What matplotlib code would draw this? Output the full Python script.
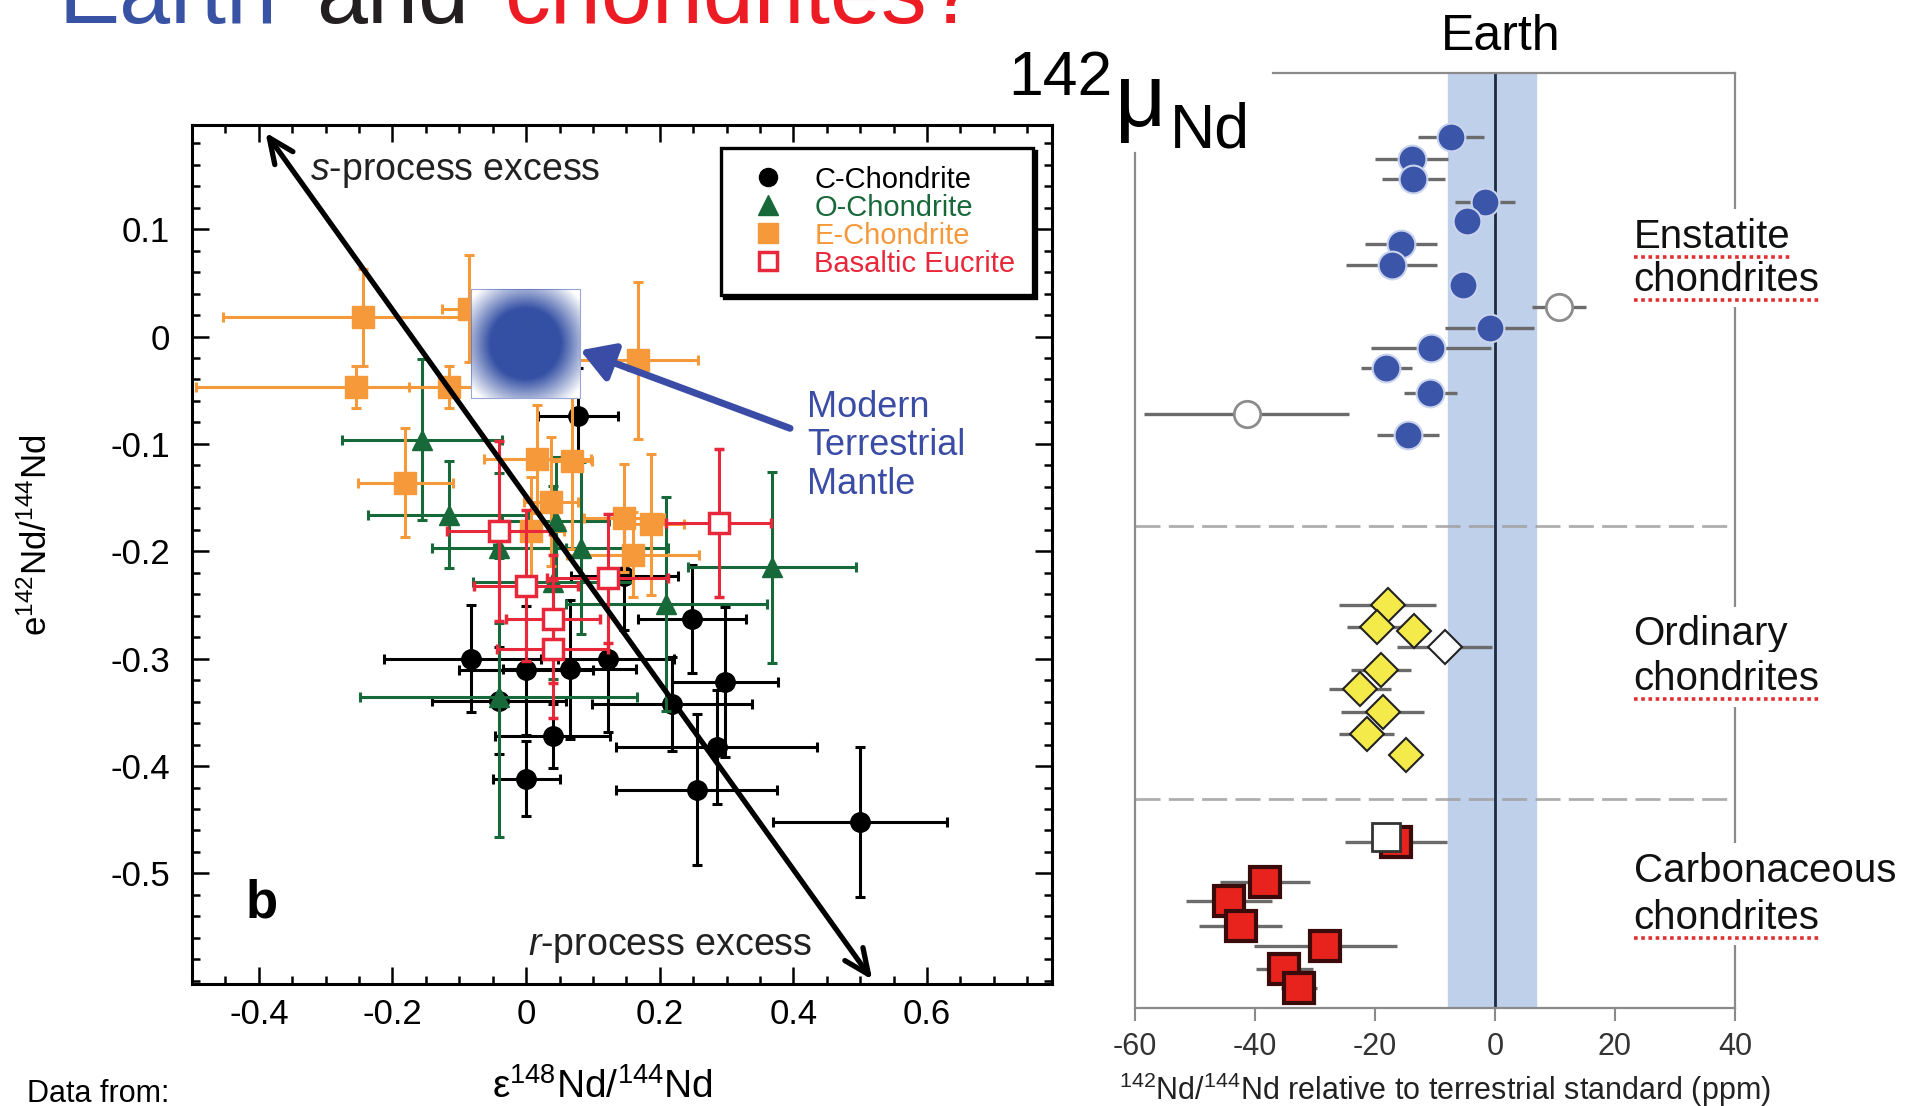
import numpy as np
import matplotlib.pyplot as plt
import matplotlib.colors as mcolors
from matplotlib.lines import Line2D
from matplotlib.patches import Rectangle
from matplotlib.ticker import MultipleLocator, FuncFormatter
from matplotlib.transforms import IdentityTransform

plt.rcParams['font.family'] = ['Liberation Sans', 'DejaVu Sans']
plt.rcParams['mathtext.fontset'] = 'custom'
plt.rcParams['mathtext.rm'] = 'Liberation Sans'
plt.rcParams['mathtext.it'] = 'Liberation Sans:italic'
plt.rcParams['mathtext.bf'] = 'Liberation Sans:bold'
plt.rcParams['axes.unicode_minus'] = False

W, H = 1914, 1106

# ---- left panel: e142Nd vs e148Nd ----
c_x = [0.078, 0.248, -0.083, 0.0, 0.065, 0.122, 0.298, -0.041, 0.218, 0.040, 0.285, 0.0, 0.255, 0.50, 0.147]
c_y = [-0.074, -0.263, -0.300, -0.311, -0.310, -0.300, -0.322, -0.339, -0.342, -0.372, -0.382, -0.412, -0.422, -0.452, -0.223]
c_xerr = [0.06, 0.081, 0.13, 0.10, 0.10, 0.10, 0.079, 0.10, 0.12, 0.086, 0.15, 0.05, 0.12, 0.13, 0.08]
c_yerr = [0.045, 0.05, 0.05, 0.06, 0.065, 0.068, 0.07, 0.05, 0.044, 0.03, 0.053, 0.035, 0.07, 0.07, 0.05]

o_x = [-0.156, -0.116, -0.041, 0.044, 0.082, 0.040, 0.368, 0.21, -0.041]
o_y = [-0.096, -0.166, -0.197, -0.172, -0.197, -0.229, -0.215, -0.249, -0.336]
o_xerr = [0.12, 0.12, 0.10, 0.08, 0.13, 0.12, 0.126, 0.15, 0.207]
o_yerr = [0.075, 0.05, 0.07, 0.06, 0.08, 0.09, 0.089, 0.10, 0.13]

e_x = [-0.244, -0.254, -0.116, -0.086, -0.181, 0.017, 0.068, 0.037, 0.007, 0.167, 0.147, 0.187, 0.160]
e_y = [0.018, -0.047, -0.047, 0.026, -0.136, -0.114, -0.116, -0.154, -0.181, -0.022, -0.169, -0.175, -0.203]
e_xerr = [0.21, 0.24, 0.06, 0.04, 0.071, 0.08, 0.031, 0.04, 0.05, 0.09, 0.06, 0.05, 0.099]
e_yerr = [0.045, 0.02, 0.02, 0.05, 0.051, 0.05, 0.082, 0.06, 0.05, 0.073, 0.05, 0.066, 0.04]

b_x = [-0.041, 0.0, 0.040, 0.040, 0.122, 0.288]
b_y = [-0.181, -0.232, -0.263, -0.291, -0.225, -0.174]
b_xerr = [0.077, 0.078, 0.07, 0.083, 0.09, 0.079]
b_yerr = [0.084, 0.07, 0.06, 0.064, 0.06, 0.069]

legend_labels = ['C-Chondrite', 'O-Chondrite', 'E-Chondrite', 'Basaltic Eucrite']
mantle_box = [-0.083, 0.080, -0.057, 0.044]
mix_start, mix_end = (-0.39, 0.19), (0.518, -0.599)

# ---- right panel: mu142Nd (ppm), rows from top (0) to bottom (100) ----
en_x = [-7.3, -13.9, -13.6, -1.6, -4.7, -15.7, -17.2, -5.4, -0.9, -10.6, -18.1, -10.8, -14.5]
en_err = [5.5, 6.1, 5.3, 5.0, 1.5, 6.0, 7.6, 1.5, 7.4, 10.0, 4.2, 4.4, 5.2]
en_row = [6.8, 9.2, 11.3, 13.8, 15.8, 18.3, 20.5, 22.7, 27.3, 29.4, 31.5, 34.2, 38.7]
en_open_x = [10.6, -41.4]
en_open_err = [4.5, 17.1]
en_open_row = [25.0, 36.5]

oc_x = [-17.9, -19.6, -13.5, -19.0, -22.5, -18.7, -21.4, -14.8]
oc_err = [8.1, 5.0, 2.0, 5.0, 5.1, 6.9, 4.6, 2.0]
oc_row = [56.9, 59.3, 59.7, 63.9, 65.9, 68.3, 70.7, 72.9]
oc_open_x = [-8.4]
oc_open_err = [7.9]
oc_open_row = [61.4]

cc_x = [-16.5, -38.3, -44.3, -42.4, -28.3, -35.1, -32.6]
cc_err = [8.5, 7.5, 7.2, 6.9, 11.9, 4.8, 3.0]
cc_row = [82.2, 86.5, 88.6, 91.2, 93.4, 95.8, 97.9]
cc_open_x = [-18.1]
cc_open_row = [81.7]

earth_band = (-7.8, 6.9)
group_breaks = [48.5, 77.7]
group_labels = [('Enstatite', 18.7, True), ('chondrites', 23.3, True),
                ('Ordinary', 61.2, False), ('chondrites', 66.0, True),
                ('Carbonaceous', 86.5, False), ('chondrites', 91.5, True)]
xticks_r = [-60, -40, -20, 0, 20, 40]


def fx(px):
    return px / W


def fy(py):
    return 1 - py / H


fig = plt.figure(figsize=(W / 100, H / 100), dpi=100)

# title (cut off at top, as on the slide)
fig.text(fx(59), fy(23), 'Earth', color='#3953a4', fontsize=66, va='baseline')
fig.text(fx(316), fy(23), 'and', color='#231f20', fontsize=66, va='baseline')
fig.text(fx(504), fy(23), 'chondrites?', color='#ed1c24', fontsize=66, va='baseline')

# ================= left panel =================
axl = fig.add_axes([fx(192), fy(984), 860 / W, 859 / H])

blk, grn, org, red = '#000000', '#18693a', '#f5993a', '#e8283a'
kw = dict(elinewidth=2.2, capsize=3.5, capthick=2.2)
axl.errorbar(c_x, c_y, xerr=c_xerr, yerr=c_yerr, fmt='o', ms=14, color=blk, zorder=2.1, **kw)
axl.errorbar(o_x, o_y, xerr=o_xerr, yerr=o_yerr, fmt='^', ms=15, color=grn, zorder=2.2, **kw)
axl.errorbar(e_x, e_y, xerr=e_xerr, yerr=e_yerr, fmt='s', ms=16, color=org, zorder=2.3, **kw)
axl.errorbar(b_x, b_y, xerr=b_xerr, yerr=b_yerr, fmt='s', ms=15, mfc='white', mec=red,
             mew=2.5, ecolor=red, zorder=2.4, **kw)

# modern terrestrial mantle: blurred blue square
u = np.linspace(-1, 1, 200)
U, V = np.meshgrid(u, u)
R = np.hypot(U, V)
img = np.zeros((200, 200, 4))
img[..., :3] = mcolors.to_rgb('#3450a4')
img[..., 3] = np.clip((1.3 - R) / 0.65, 0, 1)
x0, x1, y0, y1 = mantle_box
axl.add_patch(Rectangle((x0, y0), x1 - x0, y1 - y0, facecolor='white',
                        edgecolor='#9aa6d8', lw=0.8, zorder=5.9))
axl.imshow(img, extent=mantle_box, aspect='auto', zorder=6, interpolation='bilinear')

axl.annotate('', xy=mix_end, xytext=mix_start, annotation_clip=False,
             arrowprops=dict(arrowstyle='<->,head_length=0.45,head_width=0.2', lw=3.8,
                             color='k', mutation_scale=40, shrinkA=0, shrinkB=0), zorder=8)
axl.annotate('', xy=(0.081, -0.0128), xytext=(0.395, -0.0855),
             arrowprops=dict(arrowstyle='-|>,head_length=0.5,head_width=0.3', lw=5,
                             color='#3a4ca6', mutation_scale=40, shrinkA=0, shrinkB=0), zorder=8)

blue_txt = '#3a4ca6'
for line, yb in zip(['Modern', 'Terrestrial', 'Mantle'], [-0.0747, -0.1104, -0.1463]):
    axl.text(0.42, yb, line, color=blue_txt, fontsize=26, va='baseline')

axl.text(-0.323, 0.146, r'$\mathit{s}$-process excess', fontsize=27, va='baseline', color='#222')
axl.text(0.003, -0.576, r'$\mathit{r}$-process excess', fontsize=27, va='baseline', color='#222')
axl.text(-0.42, -0.541, 'b', fontsize=38, fontweight='bold', va='baseline')

axl.set_xlim(-0.5, 0.787)
axl.set_ylim(-0.603, 0.197)
axl.xaxis.set_major_locator(MultipleLocator(0.2))
axl.xaxis.set_minor_locator(MultipleLocator(0.05))
axl.set_yticks([-0.5, -0.4, -0.3, -0.2, -0.1, 0.0, 0.1])
axl.yaxis.set_minor_locator(MultipleLocator(0.02))
fmt = FuncFormatter(lambda v, p: '0' if abs(v) < 1e-9 else f'{v:.1f}')
axl.xaxis.set_major_formatter(fmt)
axl.yaxis.set_major_formatter(fmt)
axl.tick_params(which='both', direction='in', top=True, right=True, width=1.8, labelsize=25)
axl.tick_params(which='major', length=12)
axl.tick_params(which='minor', length=6)
axl.tick_params(axis='x', pad=10)
axl.tick_params(axis='y', pad=16)
for s in axl.spines.values():
    s.set_linewidth(2.2)

handles = [Line2D([], [], ls='none', marker='o', ms=13, color=blk),
           Line2D([], [], ls='none', marker='^', ms=15, color=grn),
           Line2D([], [], ls='none', marker='s', ms=15, color=org),
           Line2D([], [], ls='none', marker='s', ms=13, mfc='white', mec=red, mew=2.5)]
leg = axl.legend(handles, legend_labels, loc='upper right',
                 bbox_to_anchor=(1 - 19 / 860, 1 - 23 / 859), borderaxespad=0,
                 fontsize=21, frameon=True, fancybox=False,
                 shadow={'color': 'black', 'alpha': 1}, edgecolor='black', framealpha=1,
                 borderpad=0.6, labelspacing=0.0, handlelength=2, handletextpad=0.6)
leg.get_frame().set_linewidth(2.4)
for t, c in zip(leg.get_texts(), [blk, grn, org, red]):
    t.set_color(c)

fig.text(fx(37), fy(535), r'e$^{142}$Nd/$^{144}$Nd', rotation=90, fontsize=25,
         ha='center', va='center')
fig.text(fx(602), fy(1098), r'ε$^{148}$Nd/$^{144}$Nd', fontsize=28, ha='center', va='baseline')
fig.text(fx(27), fy(1102), 'Data from:', fontsize=22, va='baseline')

# ================= right panel =================
axr = fig.add_axes([fx(1135), fy(1008), 600 / W, 935 / H])
axr.axvspan(*earth_band, color='#bed0ea', zorder=0)
for r in group_breaks:
    axr.axhline(r, color='#a0a0a0', lw=2, dashes=(9, 3), alpha=0.85, zorder=0.5)
axr.axvline(0, color='#1d2a40', lw=2, zorder=1)

ekw = dict(fmt='none', ecolor='#6b6b6b', elinewidth=2.4, capsize=0, zorder=2)
axr.errorbar(en_x, en_row, xerr=en_err, **ekw)
axr.errorbar(en_open_x, en_open_row, xerr=en_open_err, **ekw)
axr.errorbar(oc_x, oc_row, xerr=oc_err, **ekw)
axr.errorbar(oc_open_x, oc_open_row, xerr=oc_open_err, **ekw)
axr.errorbar(cc_x, cc_row, xerr=cc_err, **ekw)

axr.plot(en_x, en_row, 'o', ms=20, mfc='#3b55a8', mec='#c9d3ee', mew=1.5, zorder=3)
axr.plot(en_open_x, en_open_row, 'o', ms=19, mfc='white', mec='#8c8c8c', mew=2, zorder=3)
axr.plot(oc_x, oc_row, 'D', ms=17, mfc='#f4ea4a', mec='#222', mew=1.5, zorder=3)
axr.plot(oc_open_x, oc_open_row, 'D', ms=17, mfc='white', mec='#222', mew=1.5, zorder=3)
axr.plot(cc_x, cc_row, 's', ms=21, mfc='#e8231e', mec='#3b0b0b', mew=3, zorder=3)
axr.plot(cc_open_x, cc_open_row, 's', ms=20, mfc='white', mec='#333', mew=2, zorder=3.1)

axr.set_xlim(-60, 40)
axr.set_ylim(100, 0)
axr.set_yticks([])
axr.set_xticks(xticks_r)
axr.tick_params(axis='x', direction='out', length=9, width=1.5, color='#8a8a8a',
                labelsize=22, labelcolor='#333', pad=8)
for s in axr.spines.values():
    s.set_color('#8a8a8a')
    s.set_linewidth(1.6)
axr.spines['top'].set_bounds(-37, 40)
axr.spines['left'].set_bounds(8.6, 100)

lbl_texts = []
for txt, row, ul in group_labels:
    t = axr.text(23.1, row, txt, fontsize=29, va='baseline', color='#111',
                 bbox=dict(facecolor='white', edgecolor='none', pad=6))
    lbl_texts.append((t, ul))

fig.text(fx(1008), fy(95), '142', fontsize=45, va='baseline')
fig.text(fx(1115), fy(126), 'μ', fontsize=64, va='baseline')
fig.text(fx(1170), fy(148), 'Nd', fontsize=45, va='baseline')
fig.text(fx(1501), fy(50), 'Earth', fontsize=36, ha='center', va='baseline')
fig.text(fx(1445), fy(1100), r'$^{142}$Nd/$^{144}$Nd relative to terrestrial standard (ppm)',
         fontsize=22, ha='center', va='baseline', color='#222')

# red spell-check underlines from the slide
fig.canvas.draw()
rend = fig.canvas.get_renderer()
for t, ul in lbl_texts:
    if ul:
        bb = t.get_window_extent(rend)
        fig.add_artist(Line2D([bb.x0, bb.x1], [bb.y0 - 1, bb.y0 - 1], transform=IdentityTransform(),
                              color='#e03030', lw=2.6, ls=(0, (1, 1))))

fig.savefig('out.png', dpi=100)
